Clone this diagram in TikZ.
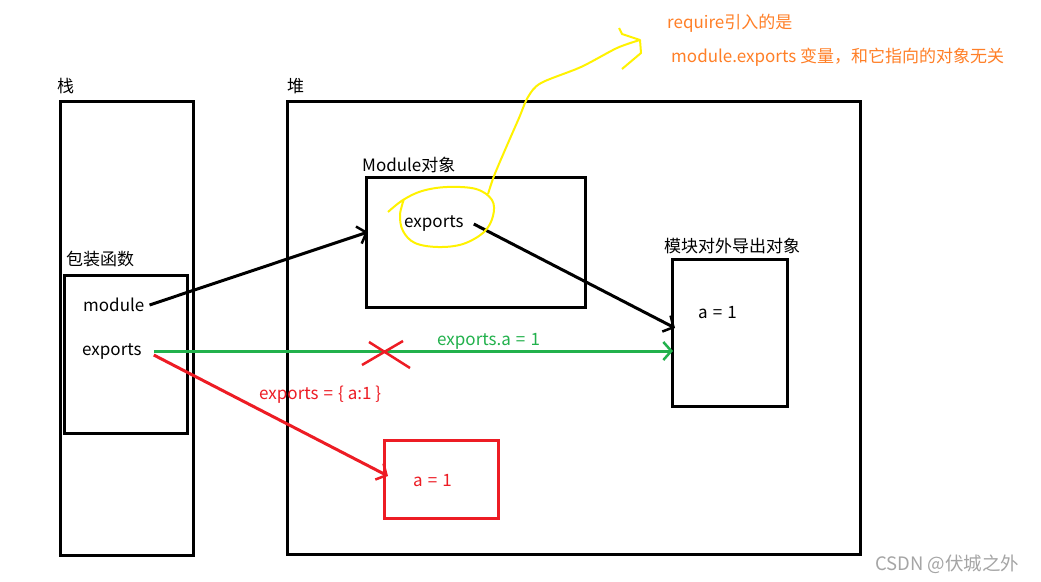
\documentclass[tikz,border=0pt]{standalone}
\usepackage{fontspec}
\setmainfont{Noto Sans CJK SC}
\usetikzlibrary{arrows.meta}
\definecolor{orng}{RGB}{255,127,39}
\definecolor{grn}{RGB}{34,177,76}
\definecolor{rd}{RGB}{237,28,36}
\definecolor{ylw}{RGB}{255,242,0}
\definecolor{wm}{RGB}{165,165,165}
\newcommand{\myeq}{\hspace{0.3em}=\hspace{0.3em}}
\begin{document}
\begin{tikzpicture}[x=1pt,y=-1pt,
  box/.style={draw, line width=3pt, inner sep=0pt},
  lbl/.style={anchor=west, inner sep=0pt, font=\fontsize{17}{19}\selectfont},
  arr/.style={line width=3pt, -{Straight Barb[length=8pt,width=18pt,line width=2.5pt]}},
  ]
\useasboundingbox[fill=white] (0,0) rectangle (1041,581);

% boxes
\node[box, minimum width=133pt, minimum height=454pt] (stack) at (126.5,328) {};
\node[box, minimum width=573pt, minimum height=453pt] (heap) at (573.5,327.5) {};
\node[box, minimum width=123pt, minimum height=158pt] (wrap) at (125.5,354) {};
\node[box, minimum width=219pt, minimum height=130pt] (modobj) at (475.5,242) {};
\node[box, minimum width=115pt, minimum height=147pt] (expobj) at (729.5,332.5) {};
\node[box, draw=rd, minimum width=114pt, minimum height=78pt] (redbox) at (441,479) {};

% labels
\node[lbl] (lstack) at (57,86) {栈};
\node[lbl] (lheap) at (287,86) {堆};
\node[lbl] (lwrap) at (66,259) {包装函数};
\node[lbl] (module) at (83,305) {module};
\node[lbl] (exports) at (82,352) {exports};
\node[lbl] (lmod) at (362,165) {Module对象};
\node[lbl] (mexports) at (404,224) {exports};
\node[lbl] (lexp) at (664,246) {模块对外导出对象};
\node[lbl] (aone) at (698,313) {a\myeq 1};
\node[lbl, text=rd] (rone) at (413,481) {a\myeq 1};
\node[lbl, text=grn] (gtxt) at (437,341) {exports.a\myeq 1};
\node[lbl, text=rd] (rtxt) at (259,395) {exports\myeq\{ a:1 \}};
\node[lbl, text=orng] (note1) at (667,23) {require引入的是};
\node[lbl, text=orng] (note2) at (671,57) {module.exports 变量，和它指向的对象无关};
\node[lbl, text=wm, font=\fontsize{18.5}{20}\selectfont] (wmark) at (875,564) {CSDN @伏城之外};

% arrow end points
\coordinate (m1) at (368,232);
\coordinate (e1) at (675,328);
\coordinate (g1) at (673,351);
\coordinate (r1) at (388,476);
\coordinate (g0) at ([xshift=12pt]exports.east);
\coordinate (r0) at (155,355);

\draw[arr] ([xshift=5pt]module.east) -- (m1);
\draw[arr] ([xshift=10pt]mexports.east) -- (e1);
\draw[arr, grn] (g0 |- g1) -- (g1);
\draw[arr, rd] (g0 |- r0) -- (r1);

% red cross
\draw[rd, line width=2.5pt] (369,342) -- (410,368);
\draw[rd, line width=2.5pt] (403,341) -- (362,365);

% yellow annotation
\draw[ylw, line width=2pt, line join=round] plot[smooth, tension=0.6] coordinates {
  (388,212) (403,200) (422,191) (447,187) (476,189) (492,200) (493,216) (484,232) (463,244) (438,247) (415,243) (403,231) (400,215) (404,199)};
\draw[ylw, line width=2pt, line join=round] plot[smooth, tension=0.5] coordinates {
  (488,194) (494,176) (505,150) (519,118) (528,97) (541,83) (581,67) (617,48) (640,40)};
\draw[ylw, line width=2pt, line join=round] (619,28) -- (622,34) -- (640,40) -- (641,53) -- (622,69);
\end{tikzpicture}
\end{document}
